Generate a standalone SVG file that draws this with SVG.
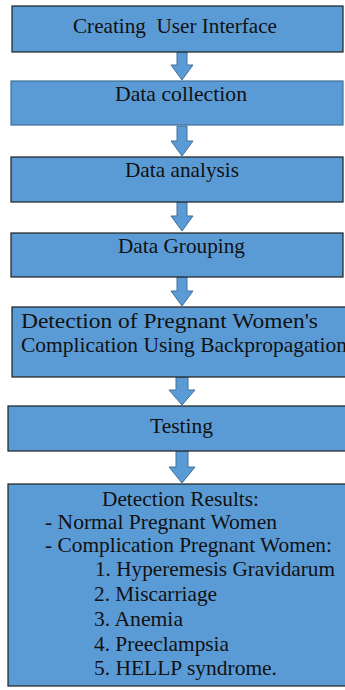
<svg xmlns="http://www.w3.org/2000/svg" width="345" height="690" viewBox="0 0 345 690">
<style>
.box{fill:#5b9bd5;stroke:#1f1f1f;stroke-width:1.2}
.box2{fill:#5b9bd5;stroke:#41719c;stroke-width:1.2}
.arr{fill:#5b9bd5;stroke:#41719c;stroke-width:1}
</style>
<rect width="345" height="690" fill="#ffffff"/>
<g id="connectors">
<path class="arr" d="M177,52 H187 V65 H193 L182,80 L171,65 H177 Z"/>
<path class="arr" d="M177,126 H187 V141 H193 L182,156 L171,141 H177 Z"/>
<path class="arr" d="M177,202 H187 V216 H193 L182,231 L171,216 H177 Z"/>
<path class="arr" d="M177,277 H187 V291 H193 L182,306 L171,291 H177 Z"/>
<path class="arr" d="M176,377 H188 V390 H195 L182,405 L169,390 H176 Z"/>
<path class="arr" d="M176,451 H188 V467 H195 L182,483 L169,467 H176 Z"/>
</g>
<g font-family="Liberation Serif, Times New Roman, DejaVu Serif, serif" font-size="21" fill="#111">
<g id="n1">
<rect class="box" x="12" y="6" width="331" height="46"/>
<text x="73" y="33" textLength="204" lengthAdjust="spacingAndGlyphs" xml:space="preserve">Creating  User Interface</text>
</g>
<g id="n2">
<rect class="box2" x="11" y="81" width="332" height="44"/>
<text x="115" y="101" textLength="132" lengthAdjust="spacingAndGlyphs">Data collection</text>
</g>
<g id="n3">
<rect class="box" x="11" y="157" width="332" height="45"/>
<text x="125" y="177" textLength="114" lengthAdjust="spacingAndGlyphs">Data analysis</text>
</g>
<g id="n4">
<rect class="box" x="11" y="233" width="332" height="44"/>
<text x="118" y="253" textLength="127" lengthAdjust="spacingAndGlyphs">Data Grouping</text>
</g>
<g id="n5">
<rect class="box" x="12" y="307" width="336" height="70"/>
<text x="21" y="328" textLength="297" lengthAdjust="spacingAndGlyphs">Detection of Pregnant Women's</text>
<text x="21" y="352" textLength="326" lengthAdjust="spacingAndGlyphs">Complication Using Backpropagation</text>
</g>
<g id="n6">
<rect class="box" x="8" y="406" width="340" height="45"/>
<text x="150" y="433" textLength="63" lengthAdjust="spacingAndGlyphs">Testing</text>
</g>
<g id="n7">
<rect class="box" x="8" y="484" width="340" height="202"/>
<text x="102" y="506" textLength="157" lengthAdjust="spacingAndGlyphs">Detection Results:</text>
<text x="45" y="529" textLength="232" lengthAdjust="spacingAndGlyphs">- Normal Pregnant Women</text>
<text x="45" y="552" textLength="287" lengthAdjust="spacingAndGlyphs">- Complication Pregnant Women:</text>
<text x="95" y="576" textLength="240" lengthAdjust="spacingAndGlyphs">1. Hyperemesis Gravidarum</text>
<text x="94" y="601" textLength="123" lengthAdjust="spacingAndGlyphs">2. Miscarriage</text>
<text x="94" y="626" textLength="89" lengthAdjust="spacingAndGlyphs">3. Anemia</text>
<text x="94" y="651" textLength="135" lengthAdjust="spacingAndGlyphs">4. Preeclampsia</text>
<text x="94" y="675" textLength="183" lengthAdjust="spacingAndGlyphs">5. HELLP syndrome.</text>
</g>
</g>
</svg>
